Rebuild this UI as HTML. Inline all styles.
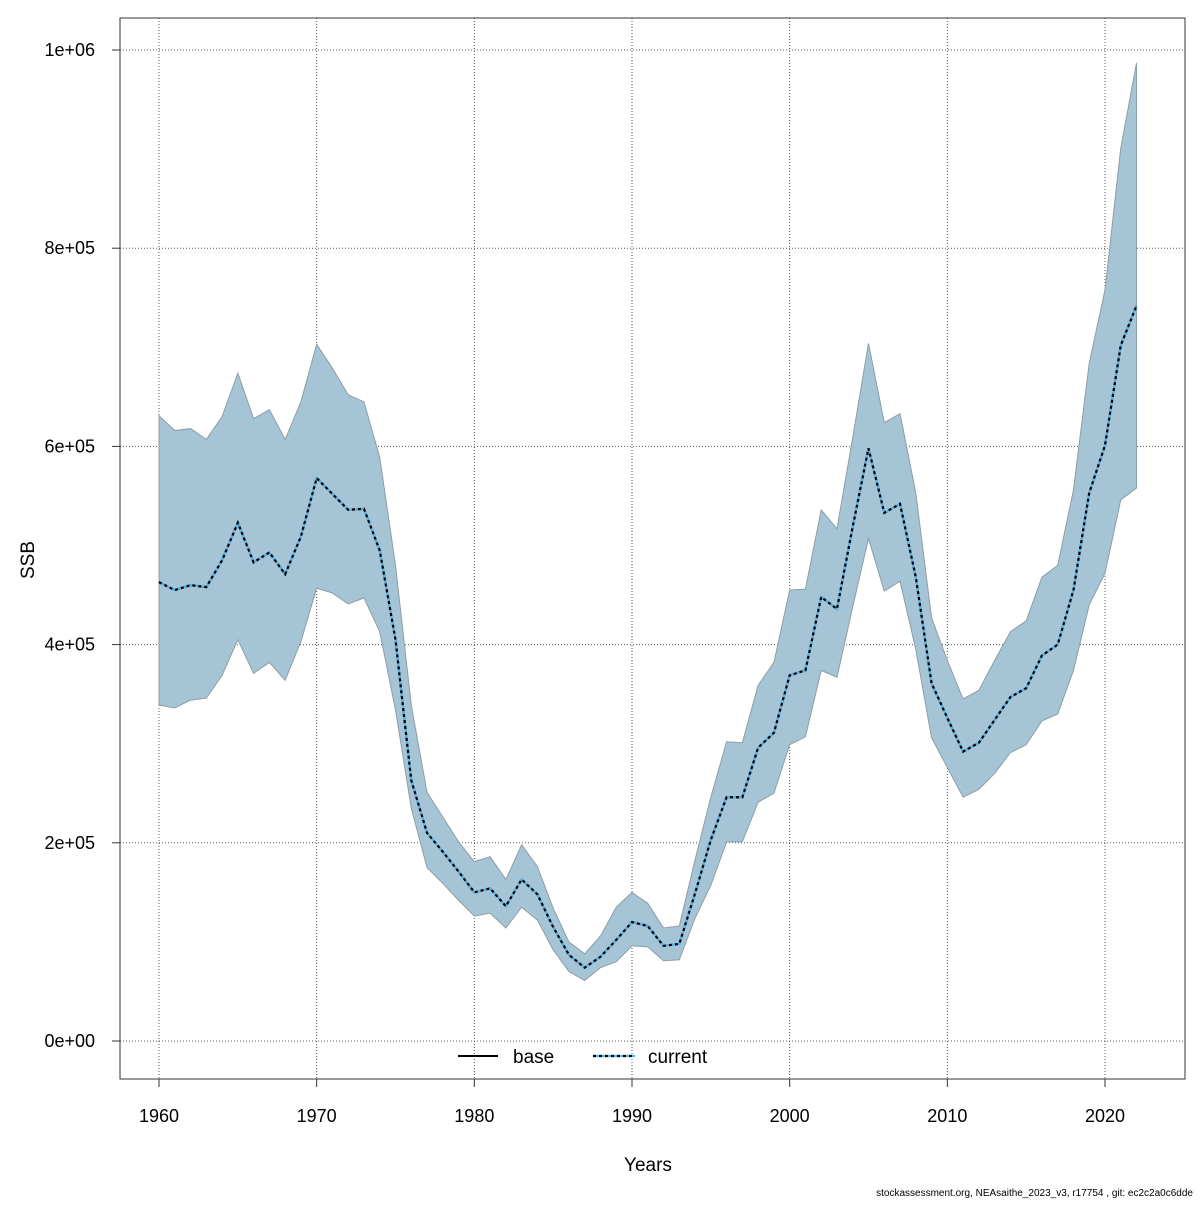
<!DOCTYPE html>
<html><head><meta charset="utf-8"><style>
body{margin:0;background:#fff;}
svg text{font-family:"Liberation Sans",sans-serif;}
</style></head><body>
<svg id="chart" width="1200" height="1200" viewBox="0 0 1200 1200" xmlns="http://www.w3.org/2000/svg">
<rect width="1200" height="1200" fill="#fff"/>
<g id="grid"></g>
<path id="band" fill="#a5c4d5" stroke="#8e9ea6" stroke-width="1"/>
<path id="base" fill="none" stroke="#000" stroke-width="2"/>
<path id="curBlue" fill="none" stroke="#56b4e9" stroke-width="2.2"/>
<path id="cur" fill="none" stroke="#000" stroke-width="2.2" stroke-dasharray="3,3"/>
<rect x="120" y="18" width="1065" height="1061" fill="none" stroke="#333" stroke-width="1"/>
<g id="axes"></g>
<text x="34" y="560" font-size="19" text-anchor="middle" transform="rotate(-90 34 560)">SSB</text>
<text x="648" y="1171" font-size="19" text-anchor="middle">Years</text>
<g>
<line x1="458" y1="1056" x2="498" y2="1056" stroke="#000" stroke-width="2"/>
<text x="513" y="1063" font-size="19">base</text>
<line x1="593" y1="1056" x2="635" y2="1056" stroke="#56b4e9" stroke-width="2.2"/>
<line x1="593" y1="1056" x2="635" y2="1056" stroke="#000" stroke-width="2.2" stroke-dasharray="3,3"/>
<text x="648" y="1063" font-size="19">current</text>
</g>
<text x="1193" y="1196" font-size="10" text-anchor="end">stockassessment.org, NEAsaithe_2023_v3, r17754 , git: ec2c2a0c6dde</text>
</svg>
<script>
const years = [];
for (let y = 1960; y <= 2022; y++) years.push(y);
const ssbMid = [463,455,460,458,485,523,483,493,471,509,568,552,536,537,495,405,263,210,191,171,150,154,136,163,148,115,87,74,85,102,120,116,96,98,149,203,246,246,296,311,369,374,448,436,519,598,533,542,468,361,326,292,301,324,347,356,389,400,455,553,601,702,742];
const ssbLow = [339,336,344,346,369,405,371,382,364,403,457,452,441,447,413,334,235,175,159,142,126,129,114,135,122,92,70,61,74,80,96,95,81,82,124,157,201,201,241,250,299,307,374,367,438,507,454,464,395,306,276,246,254,270,291,299,323,330,374,440,472,546,558];
const ssbHigh = [631,616,618,607,630,674,628,637,607,645,703,679,652,645,589,480,339,251,226,201,181,186,163,198,176,134,100,88,106,135,150,139,114,116,183,246,302,301,359,382,455,456,536,517,609,704,624,633,553,427,384,345,354,384,413,424,468,480,556,684,758,901,987];
const yTicks = [0,200,400,600,800,1000];
const yTickLabels = ["0e+00","2e+05","4e+05","6e+05","8e+05","1e+06"];
const xTicks = [1960,1970,1980,1990,2000,2010,2020];

const NS = "http://www.w3.org/2000/svg";
const xs = y => 159 + (y - 1960) * (946 / 60);
const ys = v => 1041 - v * 0.991;

function mk(tag, attrs, parent){const e=document.createElementNS(NS,tag);for(const k in attrs)e.setAttribute(k,attrs[k]);parent.appendChild(e);return e;}
const grid=document.getElementById('grid'), axes=document.getElementById('axes');
xTicks.forEach(t=>{
  const g=mk('line',{x1:xs(t),x2:xs(t),y1:18,y2:1079,stroke:'#555','stroke-width':1,'stroke-dasharray':'1,2'},grid);
  
  
  const tk=mk('line',{x1:xs(t),x2:xs(t),y1:1079,y2:1087,stroke:'#333'},axes);
  
  
  const tx=mk('text',{x:xs(t),y:1122,'font-size':18,'text-anchor':'middle'},axes);
  tx.textContent=t;
  
  
});
yTicks.forEach((t,i)=>{
  const g=mk('line',{x1:120,x2:1185,y1:ys(t),y2:ys(t),stroke:'#555','stroke-width':1,'stroke-dasharray':'1,2'},grid);
  
  
  const tk=mk('line',{x1:112,x2:120,y1:ys(t),y2:ys(t),stroke:'#333'},axes);
  
  
  const tx=mk('text',{x:95,y:ys(t)+6,'font-size':18,'text-anchor':'end'},axes);
  tx.textContent=yTickLabels[i];
  
  
});
let d='';
years.forEach((y,i)=>{d+=(i?'L':'M')+xs(y)+','+ys(ssbHigh[i]);});
for(let i=years.length-1;i>=0;i--)d+='L'+xs(years[i])+','+ys(ssbLow[i]);
document.getElementById('band').setAttribute('d',d+'Z');
let m='';
years.forEach((y,i)=>{m+=(i?'L':'M')+xs(y)+','+ys(ssbMid[i]);});
['base','curBlue','cur'].forEach(id=>document.getElementById(id).setAttribute('d',m));
</script>
</body></html>
